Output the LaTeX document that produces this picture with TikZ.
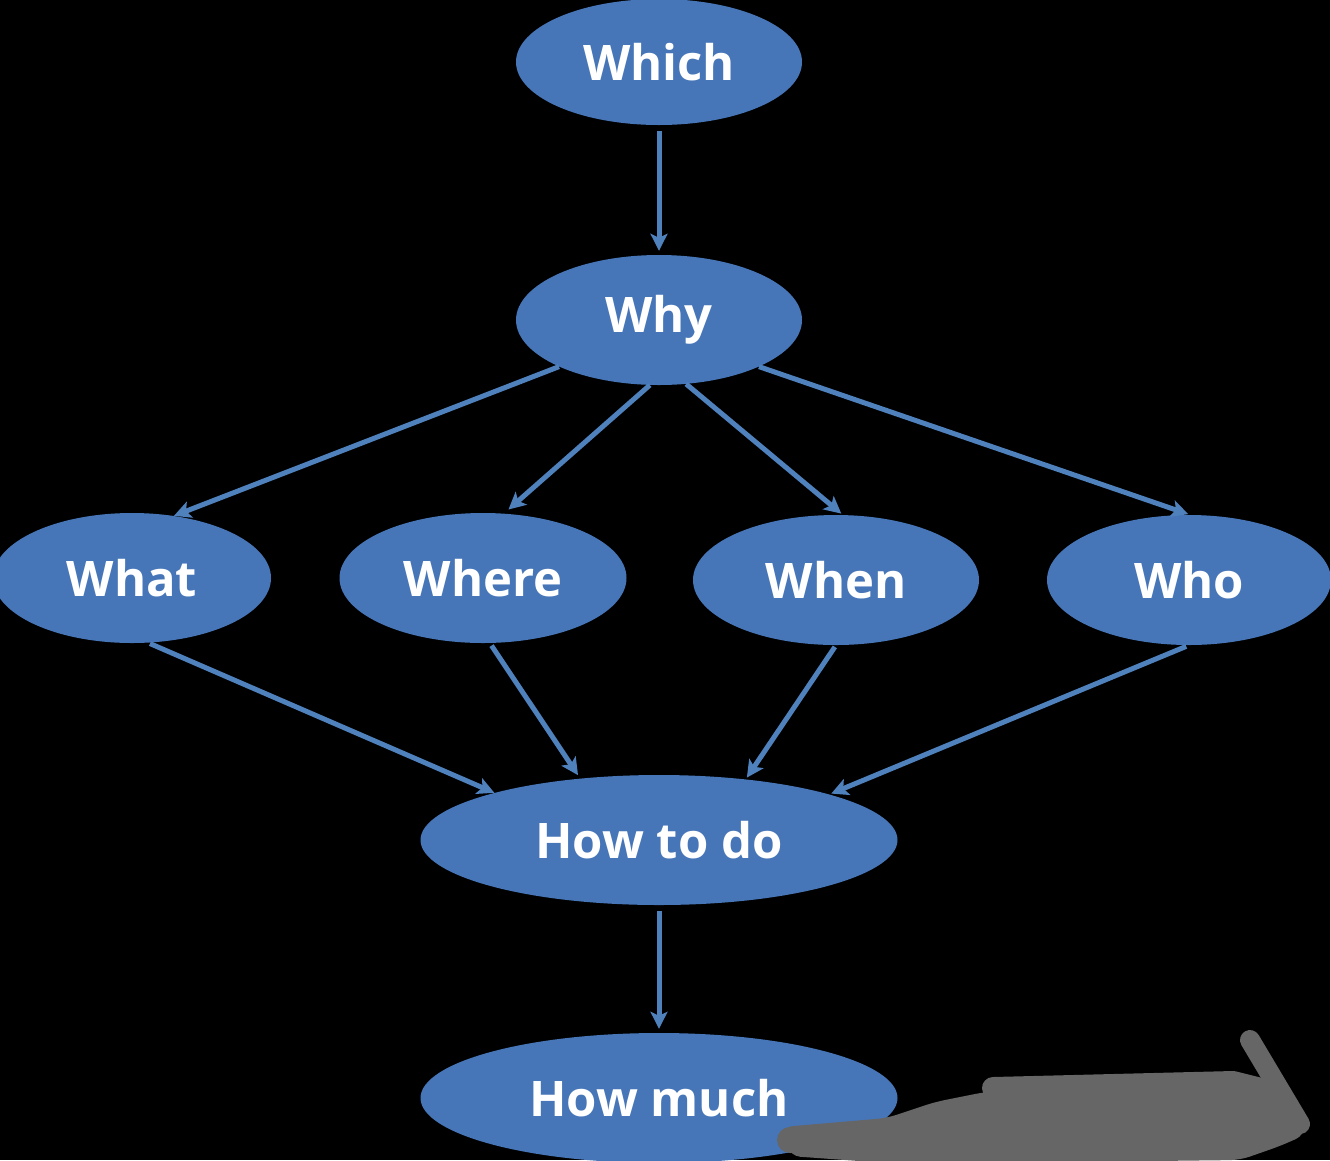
\documentclass[tikz,border=0pt]{standalone}
\usepackage{fontspec}
\setmainfont{Open Sans}
\usetikzlibrary{shapes.geometric,arrows.meta}
\definecolor{nodeblue}{HTML}{4676B8}
\definecolor{arrowblue}{HTML}{4F81BD}
\definecolor{scribgray}{HTML}{666666}
\tikzset{
  bubble/.style={ellipse, fill=nodeblue, inner sep=0pt, text=white,
    font=\fontsize{49}{52}\selectfont\bfseries},
  conn/.style={draw=arrowblue, line width=5pt,
    -{Stealth[length=17pt,width=17pt,inset=4pt]}},
  scrib/.style={scribgray}
}
\begin{document}
\begin{tikzpicture}[x=1pt,y=-1pt]
\fill[black] (0,0) rectangle (1330,1160);
\useasboundingbox (0,0) rectangle (1330,1160);

\node[bubble, minimum width=286pt, minimum height=126pt] (which) at (659,62) {Which};
\node[bubble, minimum width=286pt, minimum height=130pt] (why) at (659,320) {Why};
\node[bubble, minimum width=278pt, minimum height=130pt] (what) at (132,578) {What};
\node[bubble, minimum width=287pt, minimum height=130pt] (where) at (483,578) {Where};
\node[bubble, minimum width=286pt, minimum height=130pt] (when) at (836,580) {When};
\node[bubble, minimum width=284pt, minimum height=130pt] (who) at (1189,580) {Who};
\node[bubble, minimum width=477pt, minimum height=130pt] (htd) at (659,840) {How to do};
\node[bubble, minimum width=477pt, minimum height=130pt] (hm) at (659,1098) {How much};

\draw[conn, shorten <=6pt, shorten >=4pt] (which.south) -- (why.north);
\draw[conn] (why.205) -- (what.56);
\draw[conn, shorten >=6pt] (why.262) -- (where.72);
\draw[conn, shorten >=2pt] (why.293) -- (when.84);
\draw[conn, shorten >=2pt] (why.335) -- (who.89);
\draw[conn, shorten <=2pt] (what.284) -- (htd.164);
\draw[conn, shorten <=3pt, shorten >=4pt] (where.276) -- (htd.142);
\draw[conn, shorten <=2pt, shorten >=2pt] (when.270) -- (htd.35);
\draw[conn, shorten <=3pt, shorten >=2pt] (who.270) -- (htd.15);
\draw[conn, shorten <=6pt, shorten >=4pt] (htd.south) -- (hm.north);

% redaction scribble
\fill[scrib, rounded corners=10pt] (782,1127) -- (887,1118) -- (935,1102) -- (985,1092)
  -- (1220,1080) -- (1265,1088) -- (1305,1112) -- (1305,1135) -- (1280,1146)
  -- (1240,1160) -- (900,1164) -- (790,1156) -- cycle;
\draw[scrib, line width=26pt, line cap=round] (790,1140) -- (900,1138);
\draw[scrib, line width=22pt, line cap=round, line join=round] (993,1088) -- (1233,1082) -- (1265,1090);
\draw[scrib, line width=20pt, line cap=round] (1250,1040) -- (1300,1124);
\end{tikzpicture}
\end{document}
